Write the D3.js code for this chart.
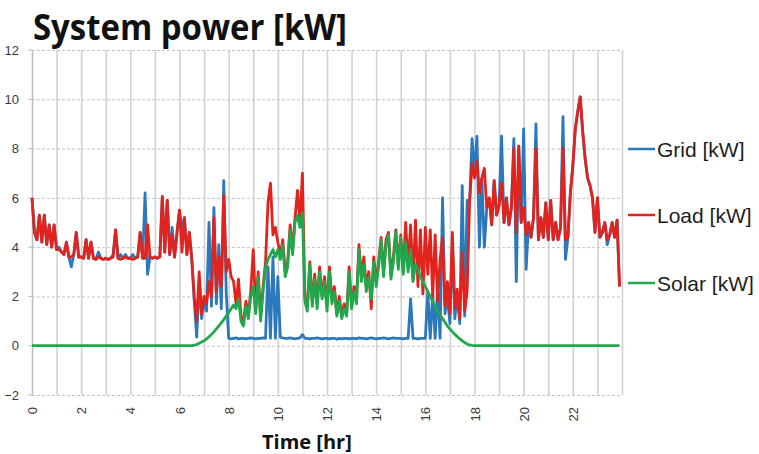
<!DOCTYPE html>
<meta charset="utf-8">
<html>

<head>
  <script src="https://d3js.org/d3.v7.min.js" charset="utf-8"></script>

  <style>
    body {
      margin: 0;
      background-color: #ffffff;
    }

    /* axis text */
    .y-axis text,
    .x-axis text {
      font-family: 'Liberation Sans', Arial, sans-serif;
      font-size: 13px;
      fill: #3a3a3a;
    }

    .y-axis path {
      stroke: #bdbdbd;
      stroke-width: 1.2;
    }

    .y-axis line {
      stroke: #c4c4c4;
      stroke-width: 1;
      stroke-dasharray: 3, 2;
    }

    .x-axis path {
      stroke-width: 0;
    }

    .x-axis line {
      stroke: #d2d2d2;
      stroke-width: 1.6;
    }

    .legend text {
      font-family: 'Liberation Sans', Arial, sans-serif;
      font-size: 21px;
      fill: #1e1e1e;
    }
  </style>
</head>

<body>
  <script>
    // ---- data, sampled every 0.1 hr (one row per hour) ----
    var loadKw = [
      6.0, 4.6, 4.3, 5.3, 4.2, 5.3, 4.1, 4.9, 4.0, 4.9,
      3.9, 3.9, 3.8, 3.7, 4.2, 3.6, 3.6, 3.7, 4.6, 3.6,
      3.6, 3.55, 4.3, 3.55, 4.2, 3.55, 3.5, 3.6, 3.55, 3.5,
      3.55, 3.5, 3.55, 3.6, 4.7, 3.55, 3.5, 3.55, 3.6, 3.55,
      3.55, 3.5, 3.55, 3.6, 4.6, 3.55, 3.55, 4.9, 3.6, 3.55,
      3.6, 3.55, 3.6, 6.05, 3.8, 5.9, 3.7, 4.5, 3.6, 4.6,
      5.5, 3.8, 5.2, 3.7, 4.6, 3.5, 2.0, 1.0, 3.0, 1.3,
      2.0, 1.7, 2.6, 2.0, 5.2, 2.2, 3.6, 2.4, 6.1, 3.0,
      3.5, 2.8, 2.6, 1.7, 2.7, 1.2, 1.0, 1.8, 1.3, 2.2,
      3.9, 1.5, 3.0, 1.2, 2.4, 3.4, 5.8, 6.6, 4.5, 4.8,
      4.2, 3.7, 4.3, 3.0, 3.4, 4.9, 3.9, 5.2, 6.3, 5.0,
      7.0, 2.0, 1.6, 3.4, 1.8, 2.9, 1.7, 3.2, 2.0, 2.8,
      1.6, 3.2, 1.9, 2.4, 1.3, 2.0, 1.2, 1.7, 1.3, 3.2,
      1.6, 2.4, 1.9, 4.1, 2.8, 3.6, 2.4, 3.0, 1.5, 3.6,
      2.6, 3.4, 4.4, 3.0, 4.3, 4.6, 2.9, 3.6, 4.7, 3.3,
      4.5, 3.0, 5.0, 3.2, 4.9, 2.7, 5.1, 2.4, 4.7, 2.1,
      4.8, 2.9, 4.7, 2.0, 4.5, 1.8, 3.5, 4.4, 1.6, 2.6,
      1.3, 4.6, 1.5, 2.3, 1.1, 3.8, 1.4, 2.2, 5.8, 7.4,
      6.8, 7.5, 6.2, 6.8, 7.2, 5.6, 6.0, 4.9, 6.7, 5.3,
      5.7, 6.6, 5.0, 6.0, 4.9, 5.6, 8.0, 4.6, 8.1, 5.0,
      5.6, 4.5, 5.0, 4.4, 5.2, 8.0, 4.3, 5.2, 4.4, 5.8,
      4.3, 5.9, 4.3, 5.0, 4.3, 4.8, 8.0, 4.3, 4.4, 6.2,
      7.3, 8.8, 9.5, 10.1, 8.7, 7.6, 6.8, 6.5, 6.0, 4.6,
      6.0, 4.4, 4.6, 5.0, 4.3, 4.5, 5.0, 4.4, 5.1, 2.4
    ];

    var gridKw = [
      6.0, 4.6, 4.3, 5.3, 4.2, 5.3, 4.1, 4.9, 4.0, 4.9,
      3.9, 4.0, 3.8, 3.7, 4.2, 3.6, 3.2, 3.7, 4.6, 3.6,
      3.6, 3.55, 4.3, 3.55, 4.2, 3.55, 3.5, 3.8, 3.55, 3.5,
      3.55, 3.5, 3.55, 3.7, 4.7, 3.55, 3.7, 3.55, 3.7, 3.55,
      3.55, 3.7, 3.55, 3.6, 4.6, 3.55, 6.2, 2.9, 3.6, 3.55,
      3.6, 3.55, 3.6, 6.05, 3.8, 5.9, 3.7, 4.8, 3.6, 4.6,
      5.5, 4.7, 5.2, 3.7, 4.6, 3.5, 1.8, 0.35, 2.6, 1.1,
      1.8, 1.4, 5.0, 1.6, 5.6, 1.7, 4.1, 1.5, 6.7, 2.2,
      0.3, 0.28, 0.3, 0.32, 0.28, 0.3, 0.3, 0.28, 0.3, 0.32,
      0.3, 0.28, 0.3, 0.3, 0.32, 0.3, 3.2, 0.3, 3.6, 0.3,
      2.8, 0.35, 0.32, 0.3, 0.3, 0.32, 0.3, 0.28, 0.3, 0.32,
      0.45, 0.3, 0.3, 0.28, 0.3, 0.3, 0.32, 0.3, 0.28, 0.3,
      0.3, 0.28, 0.3, 0.3, 0.26, 0.3, 0.28, 0.3, 0.3, 0.28,
      0.3, 0.3, 0.28, 0.32, 0.3, 0.3, 0.28, 0.3, 0.32, 0.3,
      0.28, 0.3, 0.3, 0.32, 0.3, 0.28, 0.3, 0.32, 0.3, 0.3,
      0.3, 0.28, 0.3, 0.3, 1.9, 0.3, 0.3, 0.28, 0.3, 0.3,
      0.3, 2.2, 0.3, 2.1, 0.3, 2.4, 0.3, 6.0, 1.3, 2.0,
      0.9, 4.2, 1.1, 2.1, 0.9, 6.5, 1.2, 5.9, 5.8, 8.4,
      7.0, 8.5, 4.0, 6.8, 4.0, 5.6, 6.0, 4.9, 6.7, 5.3,
      5.7, 8.5, 5.0, 6.0, 4.9, 5.6, 8.4, 2.6, 8.1, 5.0,
      8.8, 3.1, 5.0, 4.4, 5.2, 9.0, 4.3, 5.2, 4.4, 5.8,
      4.3, 5.9, 4.3, 5.0, 4.3, 4.8, 9.3, 3.5, 4.4, 6.2,
      7.3, 8.8, 9.5, 10.1, 8.7, 7.6, 6.8, 6.5, 6.0, 4.6,
      6.0, 4.4, 4.6, 5.0, 4.1, 4.5, 5.0, 4.4, 5.1, 2.4
    ];

    var solarKw = [
      0, 0, 0, 0, 0, 0, 0, 0, 0, 0,
      0, 0, 0, 0, 0, 0, 0, 0, 0, 0,
      0, 0, 0, 0, 0, 0, 0, 0, 0, 0,
      0, 0, 0, 0, 0, 0, 0, 0, 0, 0,
      0, 0, 0, 0, 0, 0, 0, 0, 0, 0,
      0, 0, 0, 0, 0, 0, 0, 0, 0, 0,
      0, 0, 0, 0, 0, 0, 0.02, 0.05, 0.1, 0.15,
      0.2, 0.28, 0.36, 0.46, 0.56, 0.68, 0.8, 0.93, 1.06, 1.2,
      1.35, 1.5, 1.65, 1.5, 1.9, 1.0, 0.8, 1.6, 1.1, 2.0,
      2.4, 1.3, 2.8, 1.0, 2.2, 3.2, 3.5, 3.7, 3.9, 3.6,
      3.9, 3.5, 4.1, 2.8, 3.2, 4.7, 3.7, 5.0, 5.3, 4.8,
      5.4, 1.8, 1.4, 3.3, 1.6, 2.7, 1.5, 3.0, 1.9, 2.6,
      1.4, 3.0, 1.7, 2.2, 1.2, 1.8, 1.1, 1.5, 1.2, 3.0,
      1.5, 2.2, 1.7, 3.9, 2.6, 3.3, 2.2, 2.8, 1.9, 3.4,
      2.4, 3.2, 4.3, 2.8, 4.1, 4.5, 2.7, 3.4, 4.6, 3.1,
      4.4, 2.9, 4.2, 3.0, 3.9, 2.6, 3.3, 3.05, 2.8, 2.6,
      2.4, 2.2, 2.0, 1.8, 1.6, 1.4, 1.25, 1.1, 0.95, 0.8,
      0.68, 0.57, 0.46, 0.37, 0.28, 0.2, 0.13, 0.07, 0.03, 0.01,
      0, 0, 0, 0, 0, 0, 0, 0, 0, 0,
      0, 0, 0, 0, 0, 0, 0, 0, 0, 0,
      0, 0, 0, 0, 0, 0, 0, 0, 0, 0,
      0, 0, 0, 0, 0, 0, 0, 0, 0, 0,
      0, 0, 0, 0, 0, 0, 0, 0, 0, 0,
      0, 0, 0, 0, 0, 0, 0, 0, 0, 0
    ];

    var hourTicks = [0, 1, 2, 3, 4, 5, 6, 7, 8, 9, 10, 11, 12, 13, 14, 15, 16, 17, 18, 19, 20, 21, 22, 23, 24];
    var kwTicks = [-2, 0, 2, 4, 6, 8, 10, 12];
    var seriesNames = ['Grid [kW]', 'Load [kW]', 'Solar [kW]'];
    var seriesColors = ['#2b78bd', '#e2231d', '#22a84c'];

    //Margin conventions
    var m = { top: 50, right: 137, bottom: 59, left: 32 };
    var W = 759, H = 454;
    var w = W - m.left - m.right,
      h = H - m.top - m.bottom;

    var root = d3.select('body')
      .append('svg')
      .attr('width', W)
      .attr('height', H);

    root.append('rect').attr('width', W).attr('height', H).attr('fill', '#fff');

    //Title
    root.append('text')
      .attr('x', 33)
      .attr('y', 40)
      .attr('textLength', 314)
      .attr('lengthAdjust', 'spacingAndGlyphs')
      .style('font-family', "'Open Sans', sans-serif")
      .style('font-weight', 700)
      .style('font-size', '36px')
      .style('fill', '#111')
      .text('System power [kW]');

    var svg = root.append('g')
      .attr('transform', `translate(${m.left}, ${m.top})`);

    //Scales
    var x = d3.scaleLinear().domain([0, 24]).range([0, w]);
    var y = d3.scaleLinear().domain([-2, 12]).range([h, 0]);

    //Vertical grid + rotated hour labels
    svg.append('g')
      .attr('class', 'x-axis')
      .attr('transform', `translate(0, ${h})`)
      .call(d3.axisBottom(x)
        .tickValues(hourTicks)
        .tickSize(-h)
        .tickFormat(d => (d % 2 === 0 && d < 24) ? d : ''))
      .selectAll('text')
      .attr('transform', 'rotate(-90)')
      .attr('x', -12)
      .attr('y', 0)
      .attr('dy', '0.35em')
      .style('text-anchor', 'end');

    //Horizontal dashed grid + kW labels
    svg.append('g')
      .attr('class', 'y-axis')
      .call(d3.axisLeft(y)
        .tickValues(kwTicks)
        .tickSize(-w)
        .tickSizeOuter(0)
        .tickPadding(13));

    //little outside ticks
    svg.append('g')
      .selectAll('line')
      .data(kwTicks)
      .enter()
      .append('line')
      .attr('x1', -4).attr('x2', 0)
      .attr('y1', d => y(d)).attr('y2', d => y(d))
      .attr('stroke', '#bdbdbd');

    //Lines: grid first, then load, solar on top
    var line = d3.line()
      .x((d, i) => x(i / 10))
      .y(d => y(d));

    [gridKw, loadKw, solarKw].forEach((series, k) => {
      svg.append('path')
        .datum(series)
        .attr('fill', 'none')
        .attr('stroke', seriesColors[k])
        .attr('stroke-width', 2.8)
        .attr('stroke-linejoin', 'round')
        .attr('d', line);
    });

    //Axis title
    root.append('text')
      .attr('x', 262)
      .attr('y', 449)
      .style('font-family', "'Open Sans', sans-serif")
      .style('font-weight', 700)
      .style('font-size', '20px')
      .style('fill', '#111')
      .text('Time [hr]');

    //Legend
    var legendY = [149, 215, 283];
    var legend = root.append('g').attr('class', 'legend');
    seriesNames.forEach((name, k) => {
      legend.append('line')
        .attr('x1', 628).attr('x2', 655)
        .attr('y1', legendY[k]).attr('y2', legendY[k])
        .attr('stroke', seriesColors[k])
        .attr('stroke-width', 2.5);
      legend.append('text')
        .attr('x', 657)
        .attr('y', legendY[k])
        .attr('dy', '0.36em')
        .text(name);
    });
  </script>
</body>

</html>
